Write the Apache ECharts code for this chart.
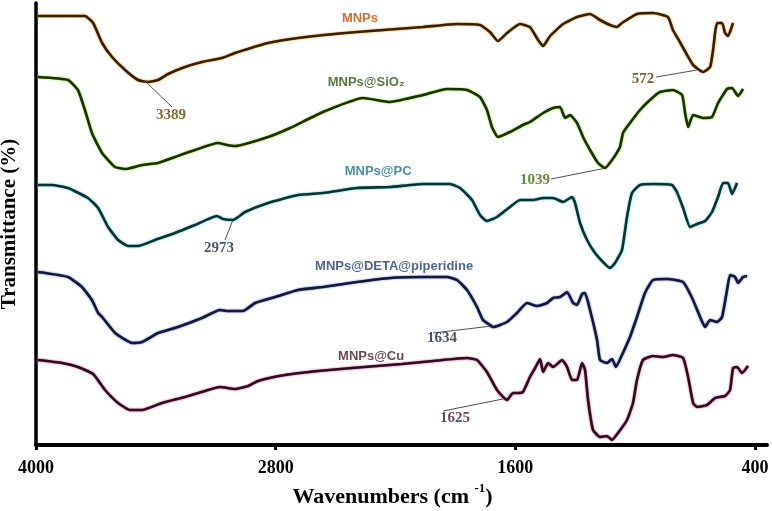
<!DOCTYPE html>
<html>
<head>
<meta charset="utf-8">
<script src="https://cdn.jsdelivr.net/npm/echarts@6/dist/echarts.min.js"></script>
<style>html,body{margin:0;padding:0;background:#fff}#c{width:772px;height:511px}</style>
</head>
<body>
<div id="c"></div>
<script>
// ---- data (wavenumber cm-1, offset transmittance units) ----
const xTicks = [4000, 2800, 1600, 400];
const seriesNames = ['MNPs', 'MNPs@SiO\u2082', 'MNPs@PC', 'MNPs@DETA@piperidine', 'MNPs@Cu'];

const mnps = [[3990,429],[3755,429],[3714,422],[3669,402],[3619,388],[3554,375],[3489,365],[3439,363],[3389,365],[3339,371],[3254,378],[3169,383],[3069,387],[3004,392],[2838,402],[2688,407],[2393,413],[2062,418],[1892,421],[1777,420],[1727,413],[1687,404],[1642,412],[1577,421],[1527,418],[1486,405],[1461,399],[1426,409],[1361,421],[1291,428],[1226,431],[1176,425],[1126,420],[1091,418],[1066,422],[991,431],[911,432],[836,428],[811,415],[776,403],[740,390],[710,380],[660,373],[625,378],[610,395],[600,412],[590,422],[565,422],[550,412],[535,409],[510,422]];

const mnpsSiO2 = [[3990,368],[3840,365],[3790,355],[3755,335],[3720,312],[3669,292],[3604,278],[3554,276],[3469,280],[3389,282],[3304,288],[3204,295],[3089,302],[3044,300],[3004,299],[2838,308],[2728,317],[2563,333],[2363,347],[2227,343],[2062,350],[1942,356],[1842,355],[1777,348],[1742,335],[1717,318],[1687,308],[1627,313],[1562,320],[1527,323],[1461,332],[1411,337],[1376,338],[1351,327],[1326,330],[1291,322],[1261,308],[1226,295],[1186,282],[1151,277],[1116,285],[1076,298],[1061,312],[1026,322],[976,335],[926,345],[876,353],[811,355],[765,350],[750,332],[735,318],[710,330],[660,327],[615,328],[585,342],[540,356],[515,357],[485,349],[460,356]];

const mnpsPC = [[3990,260],[3920,260],[3840,257],[3740,247],[3689,237],[3639,218],[3589,205],[3539,199],[3489,199],[3404,205],[3304,212],[3204,220],[3094,229],[3064,226],[3014,225],[2953,233],[2838,242],[2688,250],[2563,252],[2393,257],[2227,258],[2062,261],[1927,261],[1877,257],[1817,245],[1777,230],[1742,224],[1692,228],[1627,238],[1577,245],[1511,245],[1461,247],[1411,247],[1361,243],[1316,248],[1301,242],[1276,222],[1241,205],[1201,192],[1161,183],[1126,177],[1101,182],[1066,195],[1041,228],[1016,252],[976,260],[911,261],[816,260],[791,253],[760,237],[725,218],[690,221],[650,224],[615,233],[585,248],[560,262],[535,262],[515,251],[490,262]];

const mnpsDETA = [[3990,173],[3840,168],[3770,158],[3720,145],[3689,132],[3669,128],[3604,112],[3519,102],[3469,103],[3389,112],[3289,118],[3169,127],[3079,135],[3039,134],[2964,134],[2903,142],[2803,148],[2688,155],[2563,158],[2393,163],[2227,167],[2062,168],[1942,168],[1892,165],[1842,155],[1792,138],[1762,125],[1727,120],[1712,118],[1642,123],[1592,132],[1542,142],[1491,139],[1441,142],[1411,147],[1376,148],[1341,153],[1311,142],[1291,140],[1266,151],[1251,152],[1226,135],[1191,105],[1176,85],[1141,82],[1116,86],[1096,78],[1066,90],[1026,108],[991,128],[951,152],[911,165],[841,166],[760,163],[715,147],[675,128],[650,118],[625,125],[590,123],[565,128],[540,155],[525,170],[500,168],[485,162],[460,168],[440,169]];

const mnpsCu = [[3990,85],[3870,82],[3790,78],[3714,71],[3654,55],[3589,42],[3529,35],[3469,35],[3369,42],[3254,48],[3154,54],[3079,58],[3004,56],[2938,59],[2888,64],[2753,70],[2588,74],[2418,77],[2167,81],[2012,84],[1842,87],[1792,85],[1742,73],[1692,55],[1642,45],[1612,52],[1587,52],[1562,53],[1527,68],[1501,77],[1476,86],[1461,73],[1436,82],[1411,78],[1366,85],[1341,78],[1316,65],[1291,65],[1266,82],[1251,75],[1236,45],[1211,15],[1176,8],[1141,9],[1116,5],[1086,12],[1041,25],[1011,42],[991,65],[961,85],[911,89],[861,88],[811,90],[760,87],[735,68],[710,42],[690,38],[640,40],[600,47],[550,49],[525,55],[510,77],[490,78],[465,72],[435,79]];

const peakTexts = ['3389', '572', '1039', '2973', '1634', '1625'];

// ---- layout / style config ----
const curves = [mnps, mnpsSiO2, mnpsPC, mnpsDETA, mnpsCu];
const curveColors = ['#33200a', '#1a2e08', '#0e3030', '#141838', '#280f1e'];
const haloColors = ['#f08a00', '#7ad000', '#30c8c0', '#5060c0', '#e0307a'];
const nameColors = ['#c04a00', '#2c5410', '#1c6e92', '#1f3d70', '#3c1628'];
const nameAnchors = [[2378,427],[2347,363],[2287,274],[2207,179],[2322,89]];
const peakAnchors = [[3324,330],[961,366],[1501,265],[3084,197],[1967,107],[1902,27]];
const peakLeaders = [
  [[3444,362],[3319,338]],
  [[690,375],[895,368]],
  [[1146,277],[1421,266]],
  [[3014,225],[3054,205]],
  [[1717,119],[2012,112]],
  [[1662,46],[1962,34]]
];
const peakColors = ['#5a4800', '#4a3c08', '#3e6a0e', '#1a2a3a', '#1a1f3a', '#3a1a2a'];

const SERIF = '"Liberation Serif","Times New Roman",serif';
const SANS = '"Liberation Sans",Arial,sans-serif';

const series = [];
curves.forEach((d, i) => {
  series.push({
    type: 'line', name: seriesNames[i], data: d, symbol: 'none', smooth: 0.15,
    lineStyle: { color: curveColors[i], width: 2.6, shadowColor: haloColors[i], shadowBlur: 2 },
    silent: true, z: 3
  });
});
peakLeaders.forEach((seg, i) => {
  series.push({
    type: 'line', data: seg, symbol: 'none', silent: true, z: 2,
    lineStyle: { color: '#3a3a3a', width: 0.9 }
  });
});
series.push({
  type: 'scatter', symbolSize: 0, silent: true, z: 5,
  data: seriesNames.map((n, i) => ({ name: n, value: nameAnchors[i],
    label: { color: nameColors[i] } })),
  label: { show: true, position: 'inside', formatter: p => p.name,
    fontFamily: SANS, fontWeight: 'bold', fontSize: 13 }
});
series.push({
  type: 'scatter', symbolSize: 0, silent: true, z: 5,
  data: peakTexts.map((t, i) => ({ name: t, value: peakAnchors[i],
    label: { color: peakColors[i] } })),
  label: { show: true, position: 'inside', formatter: p => p.name,
    fontFamily: SERIF, fontWeight: 'bold', fontSize: 15 }
});

const chart = echarts.init(document.getElementById('c'), null, { renderer: 'canvas' });
chart.setOption({
  animation: false,
  backgroundColor: '#ffffff',
  grid: { left: 36, right: 5, top: 3, bottom: 66, containLabel: false, outerBoundsMode: 'none' },
  xAxis: {
    type: 'value', min: 340, max: 4000, inverse: true,
    axisLine: { lineStyle: { color: '#000', width: 4 } },
    axisTick: { show: true, customValues: xTicks, length: 5, inside: false,
      lineStyle: { color: '#000', width: 3 } },
    axisLabel: { customValues: xTicks, formatter: v => String(v), fontFamily: SERIF, fontWeight: 'bold',
      fontSize: 18, color: '#000', margin: 14 },
    splitLine: { show: false },
    name: '{a|Wavenumbers (cm }{s|-1}{a|)}',
    nameLocation: 'middle', nameGap: 37,
    nameTextStyle: {
      padding: [0, 18, 0, 0],
      rich: {
        a: { fontFamily: SERIF, fontWeight: 'bold', fontSize: 22, color: '#000', lineHeight: 26, verticalAlign: 'bottom' },
        s: { fontFamily: SERIF, fontWeight: 'bold', fontSize: 13, color: '#000', lineHeight: 26, verticalAlign: 'top' }
      }
    }
  },
  yAxis: {
    type: 'value', min: 0, max: 442,
    axisLine: { show: true, lineStyle: { color: '#000', width: 3.5 } },
    axisTick: { show: false }, axisLabel: { show: false }, splitLine: { show: false },
    name: 'Transmittance (%)', nameLocation: 'middle', nameGap: 16,
    nameTextStyle: { fontFamily: SERIF, fontWeight: 'bold', fontSize: 21, color: '#000' }
  },
  series: series
});
</script>
</body>
</html>
